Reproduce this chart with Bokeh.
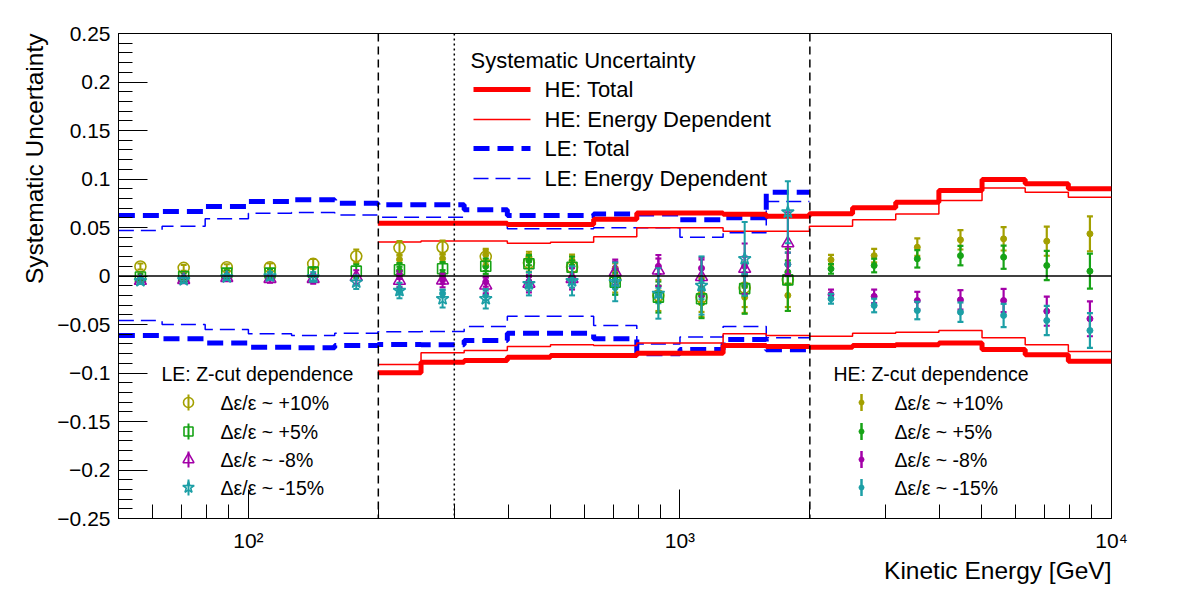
import math

from bokeh.core.properties import value
from bokeh.embed import file_html
from bokeh.models import CustomJSTickFormatter, FixedTicker, Range1d, Span, Title
from bokeh.plotting import figure
from bokeh.resources import INLINE

# ---------------------------------------------------------------- data ----
# Kinetic-energy binning in GeV (0.1-decade bins)
le_edges = [50.1, 63.1, 79.4, 100.0, 125.9, 158.5, 199.5, 251.2, 316.2, 398.1,
            501.2, 631.0, 794.3, 1000.0, 1258.9, 1584.9, 1995.3]
le_centers = [56.2, 70.8, 89.1, 112.2, 141.3, 177.8, 223.9, 281.8, 354.8, 446.7,
              562.3, 707.9, 891.3, 1122.0, 1412.5, 1778.3]
he_edges = [199.5, 251.2, 316.2, 398.1, 501.2, 631.0, 794.3, 1000.0, 1258.9,
            1584.9, 1995.3, 2511.9, 3162.3, 3981.1, 5011.9, 6309.6, 7943.3, 10000.0]
he_centers = [223.9, 281.8, 354.8, 446.7, 562.3, 707.9, 891.3, 1122.0, 1412.5,
              1778.3, 2238.7, 2818.4, 3548.1, 4466.8, 5623.4, 7079.5, 8912.5]

# Systematic uncertainty bands (upper / lower edges)
le_total_up = [0.0624, 0.0665, 0.0716, 0.0768, 0.0785, 0.0750, 0.0734, 0.0734,
               0.0682, 0.0624, 0.0624, 0.0640, 0.0640, 0.0580, 0.0600, 0.0864]
le_total_lo = [-0.0613, -0.0648, -0.0692, -0.0734, -0.0740, -0.0716, -0.0705, -0.0710,
               -0.0665, -0.0590, -0.0590, -0.0648, -0.0802, -0.0758, -0.0655, -0.0761]
le_edep_up = [0.0469, 0.0514, 0.0590, 0.0648, 0.0655, 0.0630, 0.0606, 0.0606,
              0.0555, 0.0486, 0.0486, 0.0497, 0.0497, 0.0400, 0.0445, 0.0768]
le_edep_lo = [-0.0459, -0.0500, -0.0552, -0.0596, -0.0613, -0.0590, -0.0575, -0.0572,
              -0.0520, -0.0414, -0.0414, -0.0510, -0.0700, -0.0630, -0.0520, -0.0637]

he_total_up = [0.0545, 0.0545, 0.0545, 0.0530, 0.0530, 0.0585, 0.0650, 0.0650, 0.0637,
               0.0617, 0.0641, 0.0703, 0.0760, 0.0881, 0.0995, 0.0950, 0.0899]
he_total_lo = [-0.0998, -0.0888, -0.0871, -0.0837, -0.0820, -0.0820, -0.0796, -0.0796,
               -0.0716, -0.0727, -0.0734, -0.0716, -0.0710, -0.0692, -0.0758, -0.0813, -0.0878]
he_edep_up = [0.0350, 0.0360, 0.0360, 0.0338, 0.0349, 0.0405, 0.0497, 0.0497, 0.0462,
              0.0462, 0.0513, 0.0580, 0.0640, 0.0778, 0.0906, 0.0864, 0.0813]
he_edep_lo = [-0.0912, -0.0792, -0.0768, -0.0727, -0.0710, -0.0716, -0.0692, -0.0692,
              -0.0596, -0.0613, -0.0620, -0.0590, -0.0580, -0.0562, -0.0637, -0.0710, -0.0778]

# Z-cut dependence, LE analysis
le_zcut_p10 = [0.0098, 0.0084, 0.0090, 0.0090, 0.0125, 0.0204, 0.0290, 0.0297,
               0.0200, 0.0136, 0.0090, -0.0040, -0.0200, -0.0220, -0.0120, -0.0040]
le_zcut_p5 = [-0.0010, -0.0005, 0.0030, 0.0030, 0.0040, 0.0050, 0.0064, 0.0074,
              0.0101, 0.0126, 0.0090, -0.0064, -0.0218, -0.0235, -0.0130, -0.0040]
le_zcut_m8 = [-0.0050, -0.0040, -0.0020, -0.0030, -0.0030, -0.0010, -0.0050, -0.0046,
              -0.0098, -0.0080, -0.0030, 0.0040, 0.0057, -0.0010, 0.0074, 0.0338]
le_zcut_m15 = [-0.0050, -0.0040, -0.0010, 0.0000, -0.0010, -0.0064, -0.0150, -0.0235,
               -0.0235, -0.0080, -0.0050, -0.0060, -0.0180, -0.0098, 0.0177, 0.0658]
le_err = [0.003, 0.003, 0.003, 0.004, 0.005, 0.007, 0.007, 0.007,
          0.008, 0.009, 0.011, 0.013, 0.016, 0.020, 0.026, 0.032]
le_err_m15 = [0.003, 0.003, 0.003, 0.004, 0.005, 0.007, 0.008, 0.009,
              0.010, 0.012, 0.015, 0.020, 0.026, 0.030, 0.038, 0.032]

# Z-cut dependence, HE analysis
he_zcut_p10 = [0.0170, 0.0180, 0.0220, 0.0200, 0.0160, 0.0060, -0.0180, -0.0280, -0.0220,
               -0.0200, 0.0167, 0.0210, 0.0297, 0.0373, 0.0383, 0.0359, 0.0435]
he_zcut_p5 = [0.0055, 0.0020, 0.0100, 0.0160, 0.0100, -0.0040, -0.0180, -0.0200, -0.0100,
              0.0040, 0.0074, 0.0108, 0.0177, 0.0210, 0.0194, 0.0108, 0.0050]
he_zcut_m8 = [0.0010, -0.0040, -0.0060, -0.0060, -0.0020, 0.0080, 0.0100, 0.0080, 0.0100,
              0.0120, -0.0190, -0.0210, -0.0253, -0.0246, -0.0253, -0.0363, -0.0441]
he_zcut_m15 = [-0.0150, -0.0180, -0.0200, -0.0100, -0.0060, -0.0120, -0.0200, -0.0150, 0.0020,
               0.0120, -0.0235, -0.0304, -0.0356, -0.0373, -0.0407, -0.0459, -0.0562]
he_err = [0.004, 0.004, 0.005, 0.005, 0.006, 0.007, 0.008, 0.009, 0.010,
          0.012, 0.005, 0.007, 0.009, 0.010, 0.012, 0.015, 0.018]

zcut_labels = ["Δε/ε ~ +10%", "Δε/ε ~ +5%", "Δε/ε ~ -8%", "Δε/ε ~ -15%"]
band_labels = ["HE: Total", "HE: Energy Dependent", "LE: Total", "LE: Energy Dependent"]

# ---------------------------------------------------------------- style ---
FONT = "Liberation Sans"
OLIVE, GREEN, MAGENTA, TEAL = "#a3a000", "#16a316", "#a300a8", "#1c9fa6"
X0, X1, Y0, Y1 = 50, 10000, -0.25, 0.25
W, H = 1182, 590
BL, BR, BT, BB = 118, 71, 33, 72
FW, FH = W - BL - BR, H - BT - BB


def xd(px):
    """Canvas pixel column -> energy on the log axis."""
    return 10 ** (math.log10(X0) + (px - BL) / FW * math.log10(X1 / X0))


def yd(py):
    """Canvas pixel row -> value on the linear axis."""
    return Y1 - (py - BT) / FH * (Y1 - Y0)


p = figure(width=W, height=H, x_axis_type="log",
           x_range=Range1d(X0, X1), y_range=Range1d(Y0, Y1),
           output_backend="svg", toolbar_location=None,
           min_border_left=BL, min_border_right=BR,
           min_border_top=BT, min_border_bottom=BB)
p.xgrid.visible = False
p.ygrid.visible = False
p.outline_line_color = "black"
p.outline_line_width = 1
p.background_fill_color = "white"
p.border_fill_color = "white"

# axes: ROOT-like inward ticks
p.yaxis.ticker = FixedTicker(
    ticks=[-0.25, -0.2, -0.15, -0.1, -0.05, 0.0, 0.05, 0.1, 0.15, 0.2, 0.25],
    minor_ticks=[round(-0.25 + 0.01 * i, 2) for i in range(51)])
p.yaxis.formatter = CustomJSTickFormatter(code="""
    const v = Math.round(tick * 100) / 100;
    if (Math.abs(v) < 1e-9) { return "0"; }
    return String(v).replace("-", "−");
""")
p.xaxis.ticker = FixedTicker(
    ticks=[100, 1000, 10000],
    minor_ticks=[60, 70, 80, 90, 200, 300, 400, 500, 600, 700, 800, 900,
                 2000, 3000, 4000, 5000, 6000, 7000, 8000, 9000])
p.xaxis.formatter = CustomJSTickFormatter(code="""
    const e = Math.round(Math.log10(tick));
    const sup = {2: "²", 3: "³", 4: "⁴"};
    return "10" + sup[e];
""")
for ax in (p.xaxis[0], p.yaxis[0]):
    ax.major_tick_in = 29
    ax.major_tick_out = 0
    ax.minor_tick_in = 14
    ax.minor_tick_out = 0
    ax.major_tick_line_color = "black"
    ax.minor_tick_line_color = "black"
    ax.axis_line_color = "black"
    ax.major_label_text_font = FONT
    ax.major_label_text_font_size = "21px"
    ax.major_label_text_color = "black"
p.yaxis.major_label_standoff = 8
p.xaxis.major_label_standoff = 10

# axis titles, pushed to the far end of each axis
p.add_layout(Title(text="Kinetic Energy [GeV]", align="right", text_font=FONT,
                   text_font_size="24.5px", text_font_style="normal",
                   text_color="black", standoff=0), "below")
p.add_layout(Title(text="Systematic Uncertainty", align="right", text_font=FONT,
                   text_font_size="24.5px", text_font_style="normal",
                   text_color="black", standoff=14), "left")

# reference lines
p.add_layout(Span(location=0, dimension="width", line_color="black", line_width=1.5))
p.add_layout(Span(location=200, dimension="height", line_color="black",
                  line_width=1.5, line_dash="8 5"))
p.add_layout(Span(location=2000, dimension="height", line_color="black",
                  line_width=1.5, line_dash="8 5"))
p.add_layout(Span(location=300, dimension="height", line_color="black",
                  line_width=1.5, line_dash="2 3"))

# uncertainty bands as step histograms
band_styles = [
    dict(line_color="#ff0000", line_width=5),
    dict(line_color="#ff0000", line_width=1.5),
    dict(line_color="#0000ff", line_width=5, line_dash="16 8"),
    dict(line_color="#0000ff", line_width=1.5, line_dash="15 7"),
]


def hist(edges, vals, style):
    p.step(x=edges, y=list(vals) + [vals[-1]], mode="after", **style)


hist(le_edges, le_edep_up, band_styles[3])
hist(le_edges, le_edep_lo, band_styles[3])
hist(le_edges, le_total_up, band_styles[2])
hist(le_edges, le_total_lo, band_styles[2])
hist(he_edges, he_edep_up, band_styles[1])
hist(he_edges, he_edep_lo, band_styles[1])
hist(he_edges, he_total_up, band_styles[0])
hist(he_edges, he_total_lo, band_styles[0])


def points(xs, ys, errs, color, marker, size, filled, bar_w):
    lo = [y - e for y, e in zip(ys, errs)]
    hi = [y + e for y, e in zip(ys, errs)]
    p.segment(x0=xs, x1=xs, y0=lo, y1=hi, line_color=color, line_width=bar_w)
    p.scatter(x=xs + xs, y=lo + hi, marker="dash", size=6,
              line_color=color, line_width=bar_w)
    if filled:
        p.scatter(x=xs, y=ys, marker=marker, size=size, line_color=color,
                  fill_color=color, line_width=1)
    else:
        p.scatter(x=xs, y=ys, marker=marker, size=size, line_color=color,
                  fill_color=None, line_width=1.6)


he_series = [(he_zcut_p10, OLIVE), (he_zcut_p5, GREEN),
             (he_zcut_m8, MAGENTA), (he_zcut_m15, TEAL)]
for ys, c in he_series:
    points(he_centers, ys, he_err, c, "circle", 6, True, 2.2)

le_series = [(le_zcut_p10, le_err, OLIVE, "circle", 11),
             (le_zcut_p5, le_err, GREEN, "square", 10),
             (le_zcut_m8, le_err, MAGENTA, "triangle", 12),
             (le_zcut_m15, le_err_m15, TEAL, "star", 13)]
for ys, es, c, m, s in le_series:
    points(le_centers, ys, es, c, m, s, False, 2)

# ------------------------------------------------------------- legends ----
txt = dict(text_font=value(FONT), text_color="black", text_baseline="middle",
           text_align="left")

# band legend
p.text(x=[xd(470)], y=[yd(60)], text=["Systematic Uncertainty"],
       text_font_size=value("22px"), **txt)
for lab, st, py in zip(band_labels, band_styles, [89, 119, 148, 178]):
    p.segment(x0=[xd(473)], x1=[xd(530)], y0=[yd(py)], y1=[yd(py)], **st)
    p.text(x=[xd(544)], y=[yd(py)], text=[lab], text_font_size=value("22px"), **txt)

rows = [402, 431, 459, 487]

# LE z-cut legend
p.text(x=[xd(161)], y=[yd(373)], text=["LE: Z-cut dependence"],
       text_font_size=value("19.5px"), **txt)
for (ys, es, c, m, s), lab, py in zip(le_series, zcut_labels, rows):
    p.segment(x0=[xd(188)], x1=[xd(188)], y0=[yd(py + 8)], y1=[yd(py - 8)],
              line_color=c, line_width=2)
    p.scatter(x=[xd(188)], y=[yd(py)], marker=m, size=s - 1, line_color=c,
              fill_color=None, line_width=1.6)
    p.text(x=[xd(220)], y=[yd(py)], text=[lab], text_font_size=value("19.5px"), **txt)

# HE z-cut legend
p.text(x=[xd(833)], y=[yd(373)], text=["HE: Z-cut dependence"],
       text_font_size=value("19.5px"), **txt)
for (ys, c), lab, py in zip(he_series, zcut_labels, rows):
    p.segment(x0=[xd(861)], x1=[xd(861)], y0=[yd(py + 8.5)], y1=[yd(py - 8.5)],
              line_color=c, line_width=2.5)
    p.scatter(x=[xd(861)], y=[yd(py)], marker="circle", size=5, line_color=c,
              fill_color=c)
    p.text(x=[xd(894)], y=[yd(py)], text=[lab], text_font_size=value("19.5px"), **txt)

open("out.html", "w").write(file_html(p, INLINE))
